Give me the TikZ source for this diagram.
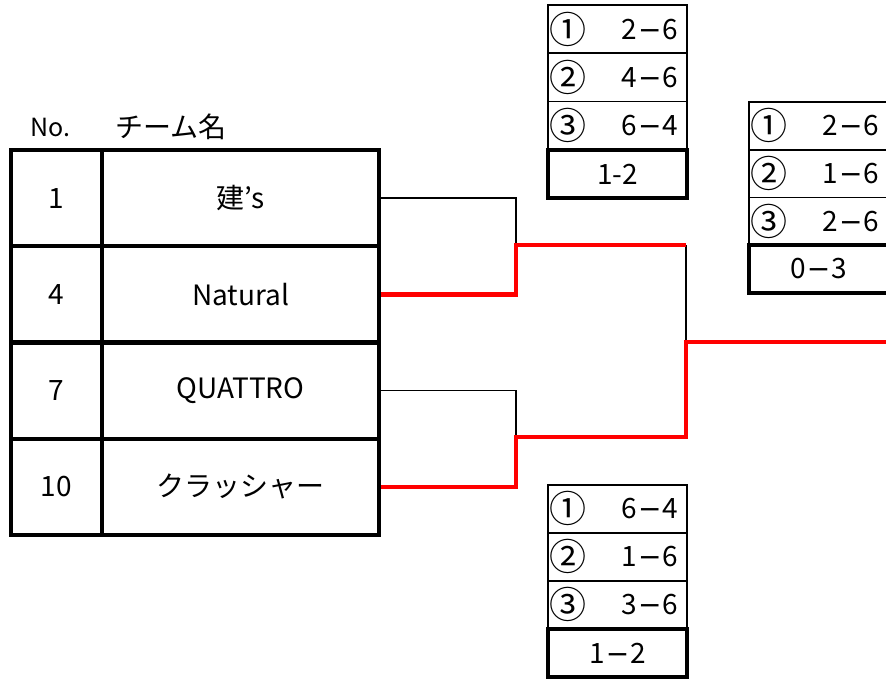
\documentclass[tikz,border=0pt]{standalone}
\usepackage{fontspec}
\setmainfont{Noto Sans CJK JP}
\newfontfamily\minusfont{DejaVu Sans}
\usetikzlibrary{positioning}
\tikzset{cell/.style={
    rectangle,draw=black,line width=4pt,
    inner sep=0pt,
    font=\fontsize{28}{34}\selectfont}
}
\tikzset{nocell/.style={cell,minimum width=91pt,minimum height=96.25pt},
  namecell/.style={cell,minimum width=277pt,minimum height=96.25pt},
  header/.style={inner sep=0pt,font=\fontsize{25}{30}\selectfont},
  score/.style={
    rectangle,draw=black,line width=1.5pt,
    minimum width=139pt,minimum height=48pt,
    inner xsep=2pt,inner ysep=0pt,
    font=\fontsize{28}{30}\selectfont},
  result/.style={score,line width=4pt},
  loss/.style={draw=black,line width=1.5pt},
  win/.style={draw=red,line width=4.5pt},
}
% circled game number, score at the right
\newcommand{\gm}[2]{\makebox[135pt]{\kern-1pt\smash{\raisebox{-4pt}{\fontsize{37}{37}\selectfont #1}}\hfill #2\kern7pt}}
\newcommand{\pts}[2]{#1\kern1pt{\minusfont −}\kern1pt#2}

\begin{document}
\begin{tikzpicture}[x=1pt,y=-1pt]
    \useasboundingbox (0,0) rectangle (886,681);
    % header
    \node (hno) [header] at (50,127) {No.};
    \node (hname) [header,font=\fontsize{28}{30}\selectfont] at (171,127) {チーム名};
    % team table
    \node (no1) [nocell] at (56.5,198.1) {1};
    \node (team1) [namecell] at (240.5,198.1) {建's};
    \node (no4) [nocell] at (56.5,294.4) {4};
    \node (team4) [namecell] at (240.5,294.4) {Natural};
    \node (no7) [nocell] at (56.5,390.6) {7};
    \node (team7) [namecell] at (240.5,390.6) {QUATTRO};
    \node (no10) [nocell] at (56.5,486.9) {10};
    \node (team10) [namecell] at (240.5,486.9) {クラッシャー};
    % game 1
    \node (ga1) [score] at (617.5,29.1) {\gm{①}{\pts{2}{6}}};
    \node (ga2) [score] at (617.5,77.4) {\gm{②}{\pts{4}{6}}};
    \node (ga3) [score] at (617.5,125.6) {\gm{③}{\pts{6}{4}}};
    \node (gares) [result] at (617.5,173.9) {1-2};
    % game 2
    \node (gb1) [score] at (617.5,509) {\gm{①}{\pts{6}{4}}};
    \node (gb2) [score] at (617.5,557) {\gm{②}{\pts{1}{6}}};
    \node (gb3) [score] at (617.5,605) {\gm{③}{\pts{3}{6}}};
    \node (gbres) [result] at (617.5,653) {\pts{1}{2}};
    % final
    \node (gc1) [score] at (818.5,126) {\gm{①}{\pts{2}{6}}};
    \node (gc2) [score] at (818.5,173.6) {\gm{②}{\pts{1}{6}}};
    \node (gc3) [score] at (818.5,221.4) {\gm{③}{\pts{2}{6}}};
    \node (gcres) [result] at (818.5,269) {\pts{0}{3}};
    % bracket
    \coordinate (j1) at (516,245);
    \coordinate (j2) at (516,437);
    \coordinate (top) at (686,245);
    \coordinate (bot) at (686,437);
    \coordinate (fin) at (686,342);
    \coordinate (champ) at (892,342);
    \draw[loss] (team1.east) -| (j1);
    \draw[loss] (team7.east) -| (j2);
    \draw[loss] (top) -- (fin);
    \draw[win] (team4.east) -| (j1) -- (top);
    \draw[win] (team10.east) -| (j2) -- (bot) -- (fin) -- (champ);
  \end{tikzpicture}
\end{document}
